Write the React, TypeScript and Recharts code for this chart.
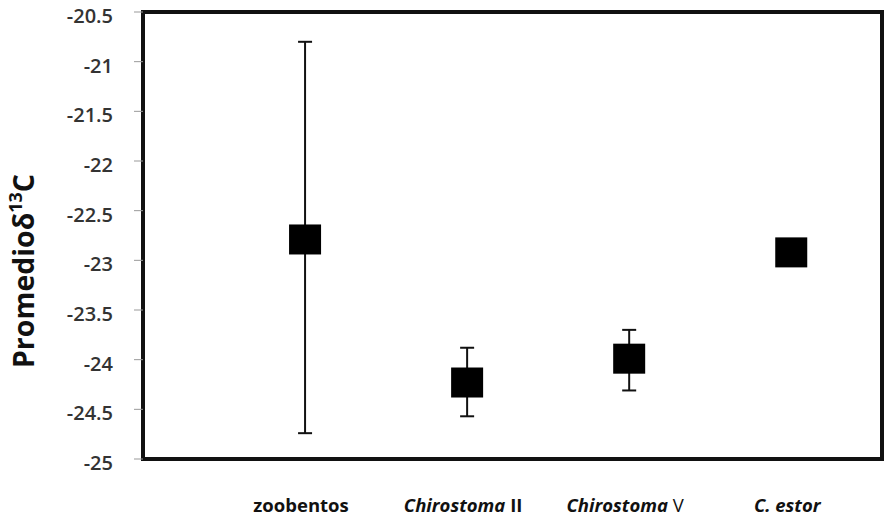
import {
  ScatterChart,
  Scatter,
  XAxis,
  YAxis,
  ErrorBar,
  ReferenceArea,
} from "recharts";

const groups = ["zoobentos", "Chirostoma II", "Chirostoma V", "C. estor"];
const means = [-22.79, -24.23, -23.99, -22.92];
const errLow = [1.95, 0.34, 0.32, 0];
const errHigh = [1.99, 0.35, 0.29, 0];
const yTicks = [-25, -24.5, -24, -23.5, -23, -22.5, -22, -21.5, -21, -20.5];

const data = groups.map((g, i) => ({
  idx: i + 1,
  name: g,
  mean: means[i],
  err: [errLow[i], errHigh[i]],
}));

const FONT = "'Open Sans', sans-serif";

function Square(props: any) {
  const { cx, cy } = props;
  if (cx == null || cy == null) return null;
  return <rect x={cx - 16} y={cy - 15} width={32} height={30} fill="#000" />;
}

function XTick(props: any) {
  const { x, y, payload } = props;
  const label = groups[payload.value - 1] || "";
  const base = { fontFamily: FONT, fontSize: 18.5, fontWeight: 700, fill: "#111" };
  let content: any = label;
  if (label.startsWith("Chirostoma")) {
    const rest = label.replace("Chirostoma", "");
    content = (
      <>
        <tspan fontStyle="italic">Chirostoma</tspan>
        <tspan fontWeight={rest.trim() === "V" ? 400 : 700}>{rest}</tspan>
      </>
    );
  } else if (label === "C. estor") {
    content = <tspan fontStyle="italic">{label}</tspan>;
  }
  return (
    <text x={x - 4} y={y + 45} textAnchor="middle" {...base}>
      {content}
    </text>
  );
}

function YTick(props: any) {
  const { x, y, payload } = props;
  return (
    <text
      x={x}
      y={y + 11}
      textAnchor="end"
      fontFamily={FONT}
      fontSize={20}
      fontWeight={600}
      fill="#333"
    >
      {String(payload.value)}
    </text>
  );
}

export default function App() {
  return (
    <div style={{ position: "absolute", left: 0, top: 0, background: "#fff" }}>
      <ScatterChart
        width={886}
        height={517}
        margin={{ top: 12, right: 4, left: 0, bottom: 0 }}
      >
        <XAxis
          type="number"
          dataKey="idx"
          domain={[0, 4.56]}
          ticks={[1, 2, 3, 4]}
          axisLine={false}
          tickLine={false}
          height={58}
          tick={<XTick />}
          interval={0}
        />
        <YAxis
          type="number"
          dataKey="mean"
          domain={[-25, -20.5]}
          ticks={yTicks}
          width={143}
          axisLine={false}
          tickLine={{ stroke: "#999", strokeWidth: 1 }}
          tickSize={9}
          tickMargin={21}
          tick={<YTick />}
          interval={0}
          allowDataOverflow
        />
        <ReferenceArea
          x1={0}
          x2={4.56}
          y1={-25}
          y2={-20.5}
          fill="none"
          stroke="#111"
          strokeWidth={4}
          ifOverflow="visible"
        />
        <Scatter data={data} shape={<Square />} isAnimationActive={false}>
          <ErrorBar
            dataKey="err"
            direction="y"
            width={7}
            stroke="#111"
            strokeWidth={2}
            isAnimationActive={false}
          />
        </Scatter>
        <text
          transform="translate(34, 271) rotate(-90)"
          textAnchor="middle"
          fontFamily={FONT}
          fontSize={28.5}
          fontWeight={700}
          fill="#111"
        >
          Promedioδ
          <tspan fontSize={18} dy={-12}>13</tspan>
          <tspan dy={12}>C</tspan>
        </text>
      </ScatterChart>
    </div>
  );
}
